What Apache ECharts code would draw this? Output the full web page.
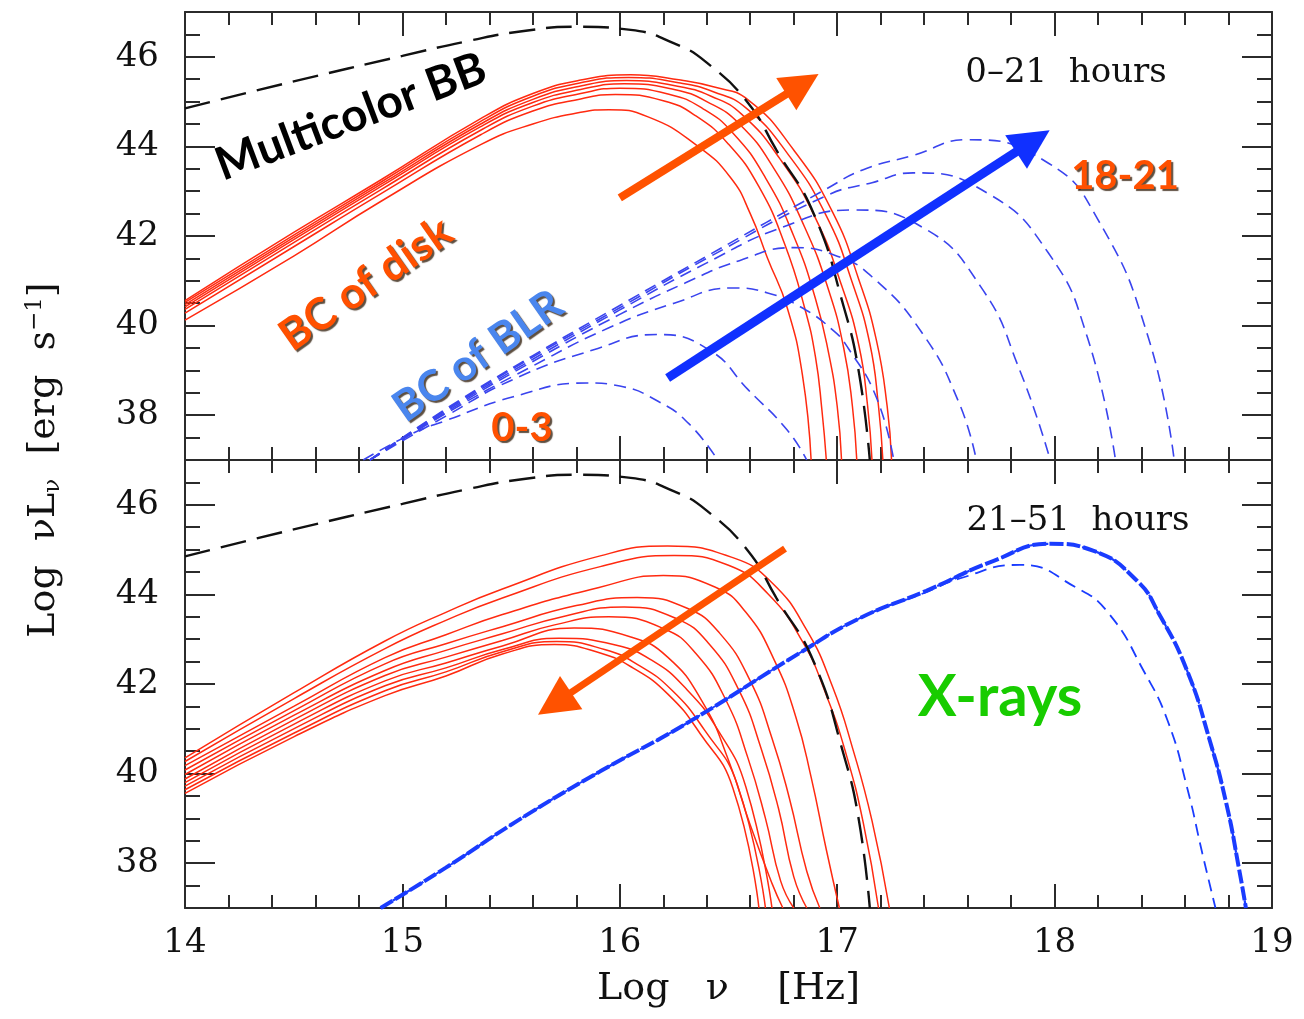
<!DOCTYPE html>
<html>
<head>
<meta charset="utf-8">
<script src="https://cdn.jsdelivr.net/npm/echarts@6/dist/echarts.min.js"></script>
<style>
html, body { margin: 0; padding: 0; background: #fff; }
#chart { width: 1304px; height: 1019px; }
</style>
</head>
<body>
<div id="chart"></div>
<script>
// tick labels
var yMajor = [38, 40, 42, 44, 46];

// multicolor black body (same in both panels)
var bbCurve = [[14,44.85],[14.5,45.45],[15,46.02],[15.3,46.35],[15.55,46.57],[15.8,46.67],[16.05,46.6],[16.25,46.3],[16.4,45.87],[16.59,44.97],[16.72,43.92],[16.89,42.52],[17.03,40.42],[17.1,38.95],[17.15,37.0]];

// top panel: BC of disk, 0-21 hours
var diskTop1 = [[14,40.12],[14.5,41.55],[14.9,42.77],[15.36,44.04],[15.6,44.5],[15.82,44.76],[15.95,44.82],[16.13,44.66],[16.36,44.0],[16.51,43.3],[16.6,42.5],[16.68,41.5],[16.77,40.4],[16.84,38.9],[16.88,37.0]];
var diskTop2 = [[14,40.28],[14.5,41.76],[14.9,42.94],[15.36,44.26],[15.6,44.79],[15.82,45.06],[15.98,45.16],[16.2,45.02],[16.35,44.68],[16.5,44.05],[16.64,43.1],[16.76,41.8],[16.85,40.4],[16.9,39.3],[16.93,38.1],[16.95,37.0]];
var diskTop3 = [[14,40.36],[14.5,41.85],[14.9,43.03],[15.36,44.36],[15.6,44.9],[15.82,45.18],[16.0,45.3],[16.23,45.16],[16.38,44.85],[16.52,44.3],[16.67,43.3],[16.8,42.0],[16.9,40.6],[16.96,39.4],[17.0,38.2],[17.02,37.0]];
var diskTop4 = [[14,40.42],[14.5,41.92],[14.9,43.1],[15.36,44.44],[15.6,44.98],[15.82,45.27],[16.02,45.4],[16.25,45.27],[16.4,45.0],[16.55,44.5],[16.71,43.5],[16.85,42.2],[16.96,40.8],[17.03,39.5],[17.07,38.2],[17.09,37.0]];
var diskTop5 = [[14,40.47],[14.5,41.97],[14.9,43.15],[15.36,44.5],[15.6,45.05],[15.82,45.35],[16.03,45.47],[16.26,45.35],[16.42,45.12],[16.56,44.72],[16.74,43.7],[16.9,42.4],[17.02,40.9],[17.1,39.55],[17.14,38.2],[17.16,37.0]];
var diskTop6 = [[14,40.52],[14.5,42.02],[14.9,43.2],[15.36,44.56],[15.6,45.12],[15.82,45.42],[16.04,45.54],[16.27,45.42],[16.43,45.22],[16.58,44.86],[16.77,43.85],[16.95,42.45],[17.07,40.95],[17.15,39.6],[17.19,38.2],[17.21,37.0]];
var diskTop7 = [[14,40.56],[14.5,42.08],[14.9,43.25],[15.36,44.62],[15.6,45.18],[15.82,45.48],[16.05,45.6],[16.28,45.48],[16.43,45.33],[16.59,45.04],[16.8,43.92],[16.98,42.52],[17.1,41.02],[17.18,39.68],[17.23,38.19],[17.25,37.0]];

// top panel: BC of BLR
var blrA = [[14.82,37.0],[15.05,37.6],[15.2,37.88],[15.51,38.41],[15.85,38.72],[16.0,38.65],[16.18,38.3],[16.32,37.8],[16.45,37.0]];
var blrB = [[14.85,37.0],[15.2,37.98],[15.51,38.8],[15.88,39.46],[16.17,39.8],[16.41,39.46],[16.59,38.57],[16.77,37.67],[16.86,37.0]];
var blrC = [[14.85,37.0],[15.2,38.04],[15.6,39.1],[15.95,39.95],[16.25,40.5],[16.52,40.84],[16.68,40.73],[16.83,40.42],[16.98,39.9],[17.05,39.5],[17.18,38.4],[17.26,37.0]];
var blrD = [[14.85,37.0],[15.2,38.07],[15.6,39.2],[16.0,40.25],[16.3,40.95],[16.55,41.45],[16.8,41.74],[17.0,41.55],[17.16,41.09],[17.39,39.84],[17.56,38.28],[17.64,37.0]];
var blrE = [[14.85,37.0],[15.2,38.1],[15.6,39.25],[16.0,40.35],[16.4,41.4],[16.75,42.2],[17.07,42.58],[17.39,42.2],[17.66,40.87],[17.84,39.0],[17.98,37.0]];
var blrF = [[14.85,37.0],[15.2,38.12],[15.6,39.3],[16.0,40.4],[16.4,41.5],[16.95,42.9],[17.16,43.19],[17.35,43.41],[17.69,42.96],[17.97,41.63],[18.15,39.75],[18.28,37.0]];
var blrG = [[14.85,37.0],[15.2,38.14],[15.6,39.33],[16.0,40.45],[16.4,41.55],[16.95,43.05],[17.12,43.48],[17.35,43.8],[17.6,44.15],[17.97,43.63],[18.2,42.36],[18.43,39.75],[18.55,37.0]];

// bottom panel: BC of disk, 21-51 hours
var diskBot1 = [[14,40.35],[14.5,41.8],[14.92,42.96],[15.2,43.6],[15.46,44.12],[15.91,44.86],[16.22,45.08],[16.52,44.82],[16.7,44.26],[16.86,43.2],[16.98,41.92],[17.07,40.58],[17.16,38.95],[17.24,37.0]];
var diskBot2 = [[14,40.27],[14.5,41.67],[14.92,42.79],[15.2,43.42],[15.46,43.92],[15.91,44.62],[16.25,44.87],[16.5,44.65],[16.68,44.02],[16.84,42.95],[16.95,41.75],[17.04,40.45],[17.12,38.9],[17.19,37.0]];
var diskBot3 = [[14,40.18],[14.5,41.5],[14.92,42.59],[15.2,43.1],[15.46,43.55],[15.9,44.15],[16.2,44.42],[16.44,44.16],[16.58,43.6],[16.71,42.54],[16.81,41.26],[16.88,39.92],[16.95,38.3],[17.01,37.0]];
var diskBot4 = [[14,40.08],[14.5,41.4],[14.92,42.45],[15.2,42.9],[15.46,43.28],[15.8,43.75],[16.08,43.93],[16.31,43.69],[16.46,43.13],[16.6,42.07],[16.7,40.79],[16.78,39.45],[16.86,37.82],[16.92,37.0]];
var diskBot5 = [[14,39.98],[14.5,41.3],[14.92,42.3],[15.2,42.75],[15.46,43.12],[15.75,43.52],[16.02,43.72],[16.26,43.46],[16.41,42.9],[16.55,41.84],[16.65,40.56],[16.73,39.22],[16.8,37.7],[16.86,37.0]];
var diskBot6 = [[14,39.88],[14.5,41.2],[14.92,42.19],[15.2,42.6],[15.46,42.97],[15.7,43.32],[15.95,43.5],[16.2,43.24],[16.35,42.68],[16.49,41.62],[16.59,40.34],[16.67,39.0],[16.74,37.6],[16.8,37.0]];
var diskBot7 = [[14,39.8],[14.5,41.1],[14.92,42.07],[15.2,42.47],[15.46,42.85],[15.79,43.25],[16.05,43.05],[16.22,42.6],[16.38,41.6],[16.5,40.3],[16.6,38.85],[16.7,37.55],[16.75,37.0]];
var diskBot8 = [[14,39.72],[14.5,41.0],[14.92,41.96],[15.2,42.36],[15.46,42.77],[15.72,43.02],[15.98,42.87],[16.15,42.52],[16.3,41.92],[16.45,40.98],[16.58,39.7],[16.7,37.0]];
var diskBot9 = [[14,39.64],[14.5,40.9],[14.92,41.85],[15.2,42.27],[15.46,42.72],[15.71,42.95],[15.93,42.77],[16.08,42.44],[16.24,41.86],[16.39,40.97],[16.54,39.76],[16.67,37.0]];
var diskBot10 = [[14,39.56],[14.5,40.82],[14.92,41.74],[15.2,42.18],[15.46,42.67],[15.7,42.88],[15.91,42.69],[16.06,42.36],[16.22,41.78],[16.37,40.89],[16.52,39.68],[16.64,37.0]];

// bottom panel: X-rays
var xrayMain = [[14.9,37.0],[15.2,37.9],[15.53,38.95],[15.91,40.05],[16.3,41.1],[16.83,42.7],[17.1,43.46],[17.41,44.08],[17.72,44.75],[17.98,45.13],[18.18,44.97],[18.38,44.3],[18.48,43.57],[18.61,42.29],[18.71,40.8],[18.79,39.33],[18.85,37.83],[18.88,37.0]];
var xrayLow = [[14.9,37.0],[15.2,37.9],[15.53,38.95],[15.91,40.05],[16.3,41.1],[16.83,42.7],[17.1,43.46],[17.41,44.05],[17.56,44.35],[17.84,44.66],[18.1,44.15],[18.25,43.57],[18.41,42.29],[18.52,41.18],[18.61,39.68],[18.68,38.21],[18.74,37.0]];

// arrows (start, end)
var arrowDiskUp = [[16.0,42.85],[16.84,45.39]];
var arrowBlrUp = [[16.22,38.83],[17.9,44.12]];
var arrowDiskDown = [[16.76,45.02],[15.7,41.56]];

var AX = '#2b2b2b';
var RED = '#ff2a10';
var BLUE = '#3a44ee';
var XBLUE = '#1a3cff';
var SERIF = "'DejaVu Serif', serif";
var COMIC = "Lato, 'Noto Sans', sans-serif";

function xAxis(grid, pos, labels){
    return {
        gridIndex: grid, type: 'value', min: 14, max: 19, interval: 1, position: pos,
        axisLine: {show: true, onZero: false, lineStyle: {color: AX, width: 2}},
        axisTick: {show: true, inside: true, length: 24, lineStyle: {color: AX, width: 2}},
        minorTick: {show: true, splitNumber: 5, length: 13, lineStyle: {color: AX, width: 2}},
        splitLine: {show: false},
        axisLabel: {show: labels, margin: 18, color: '#111', fontFamily: SERIF, fontSize: 34},
        name: labels ? 'Log   \u03bd    [Hz]' : '',
        nameLocation: 'middle', nameGap: 62,
        nameTextStyle: {color: '#111', fontFamily: SERIF, fontSize: 38}
    };
}

function yAxis(grid, pos, major, labels){
    return {
        gridIndex: grid, type: 'value', min: 37, max: 47, interval: major ? 1 : 0.5, position: pos,
        axisLine: {show: !major, onZero: false, lineStyle: {color: AX, width: 2}},
        axisTick: major
            ? {show: true, inside: true, length: 30, customValues: yMajor, lineStyle: {color: AX, width: 2}}
            : {show: true, inside: true, length: 15, lineStyle: {color: AX, width: 2}},
        splitLine: {show: false},
        axisLabel: {
            show: labels, margin: 26, color: '#111', fontFamily: SERIF, fontSize: 34,
            formatter: function(v){ return v % 2 === 0 ? String(v) : ''; }
        }
    };
}

function curve(data, g, color, width, type, z){
    return {
        type: 'line', xAxisIndex: g * 2, yAxisIndex: g * 4, data: data,
        showSymbol: false, symbol: 'none', smooth: 0.5,
        silent: true, z: z || 2,
        lineStyle: {color: color, width: width, type: type || 'solid'}
    };
}

function arrow(coords, g, color, width, size){
    return {
        type: 'lines', coordinateSystem: 'cartesian2d', xAxisIndex: g * 2, yAxisIndex: g * 4,
        symbol: ['none', 'triangle'], symbolSize: size, silent: true, z: 5,
        lineStyle: {color: color, width: width, opacity: 1, curveness: 0},
        data: [{coords: coords}]
    };
}

function label(text, x, y, color, size, rot, font, shadow){
    var st = {
        text: text, fill: color, fontFamily: font || COMIC, fontSize: size, fontWeight: 'bold',
        textAlign: 'center', textVerticalAlign: 'middle'
    };
    if (shadow){
        st.textShadowColor = 'rgba(40,20,0,0.75)';
        st.textShadowOffsetX = 2;
        st.textShadowOffsetY = 2;
        st.textShadowBlur = 1;
    }
    return {type: 'text', x: x, y: y, rotation: rot || 0, z: 10, style: st};
}

function init(){
    var series = [];
    [diskTop1, diskTop2, diskTop3, diskTop4, diskTop5, diskTop6, diskTop7].forEach(function(d){
        series.push(curve(d, 0, RED, 1.5));
    });
    [blrA, blrB, blrC, blrD, blrE, blrF, blrG].forEach(function(d){
        series.push(curve(d, 0, BLUE, 1.6, [12, 7]));
    });
    series.push(curve(bbCurve, 0, '#111', 2.4, [26, 11], 3));

    [diskBot1, diskBot2, diskBot3, diskBot4, diskBot5, diskBot6, diskBot7, diskBot8, diskBot9, diskBot10].forEach(function(d){
        series.push(curve(d, 1, RED, 1.5));
    });
    series.push(curve(xrayLow, 1, XBLUE, 1.8, [12, 7]));
    series.push(curve(xrayMain, 1, XBLUE, 4, [14, 3]));
    series.push(curve(xrayMain, 1, XBLUE, 2.2, [8, 6]));
    series.push(curve(bbCurve, 1, '#111', 2.4, [26, 11], 3));

    series.push(arrow(arrowDiskUp, 0, '#ff5200', 8, 38));
    series.push(arrow(arrowBlrUp, 0, '#1030ff', 9, 40));
    series.push(arrow(arrowDiskDown, 1, '#ff5200', 7, 40));

    var option = {
        animation: false,
        backgroundColor: '#fff',
        grid: [
            {left: 185, right: 32, top: 12, height: 448},
            {left: 185, right: 32, top: 460, height: 448}
        ],
        xAxis: [
            xAxis(0, 'bottom', false), xAxis(0, 'top', false),
            xAxis(1, 'bottom', true), xAxis(1, 'top', false)
        ],
        yAxis: [
            yAxis(0, 'left', false, true), yAxis(0, 'left', true, false),
            yAxis(0, 'right', false, false), yAxis(0, 'right', true, false),
            yAxis(1, 'left', false, true), yAxis(1, 'left', true, false),
            yAxis(1, 'right', false, false), yAxis(1, 'right', true, false)
        ],
        graphic: [
            label('Multicolor BB', 351, 117, '#000', 46, 0.36),
            label('BC of disk', 366, 284, '#ff5000', 44, 0.61, null, true),
            label('BC of BLR', 478, 356, '#4a86ee', 43, 0.61, null, true),
            label('0-3', 522, 428, '#ff5000', 40, 0, null, true),
            label('18-21', 1125, 176, '#ff5000', 40, 0, null, true),
            label('X-rays', 1000, 697, '#18cc00', 58, 0),
            {type: 'text', x: 1066, y: 73, z: 10, style: {
                text: '0\u201321  hours', fill: '#111', fontFamily: SERIF, fontSize: 34,
                textAlign: 'center', textVerticalAlign: 'middle'}},
            {type: 'text', x: 1078, y: 521, z: 10, style: {
                text: '21\u201351  hours', fill: '#111', fontFamily: SERIF, fontSize: 34,
                textAlign: 'center', textVerticalAlign: 'middle'}},
            {type: 'text', x: 44, y: 460, rotation: Math.PI / 2, z: 10, style: {
                text: '{n|Log  \u03bdL}{s|\u03bd}{n|  [erg  s}{p|\u22121}{n|]}',
                fill: '#111', fontFamily: SERIF, fontSize: 38,
                textAlign: 'center', textVerticalAlign: 'middle',
                rich: {
                    n: {fontFamily: SERIF, fontSize: 38, fill: '#111'},
                    s: {fontFamily: SERIF, fontSize: 23, fill: '#111', padding: [18, 0, 0, 0]},
                    p: {fontFamily: SERIF, fontSize: 23, fill: '#111', padding: [0, 0, 18, 0]}
                }
            }}
        ],
        series: series
    };

    var myChart = echarts.init(document.getElementById('chart'));
    myChart.setOption(option);
}

init();
</script>
</body>
</html>
